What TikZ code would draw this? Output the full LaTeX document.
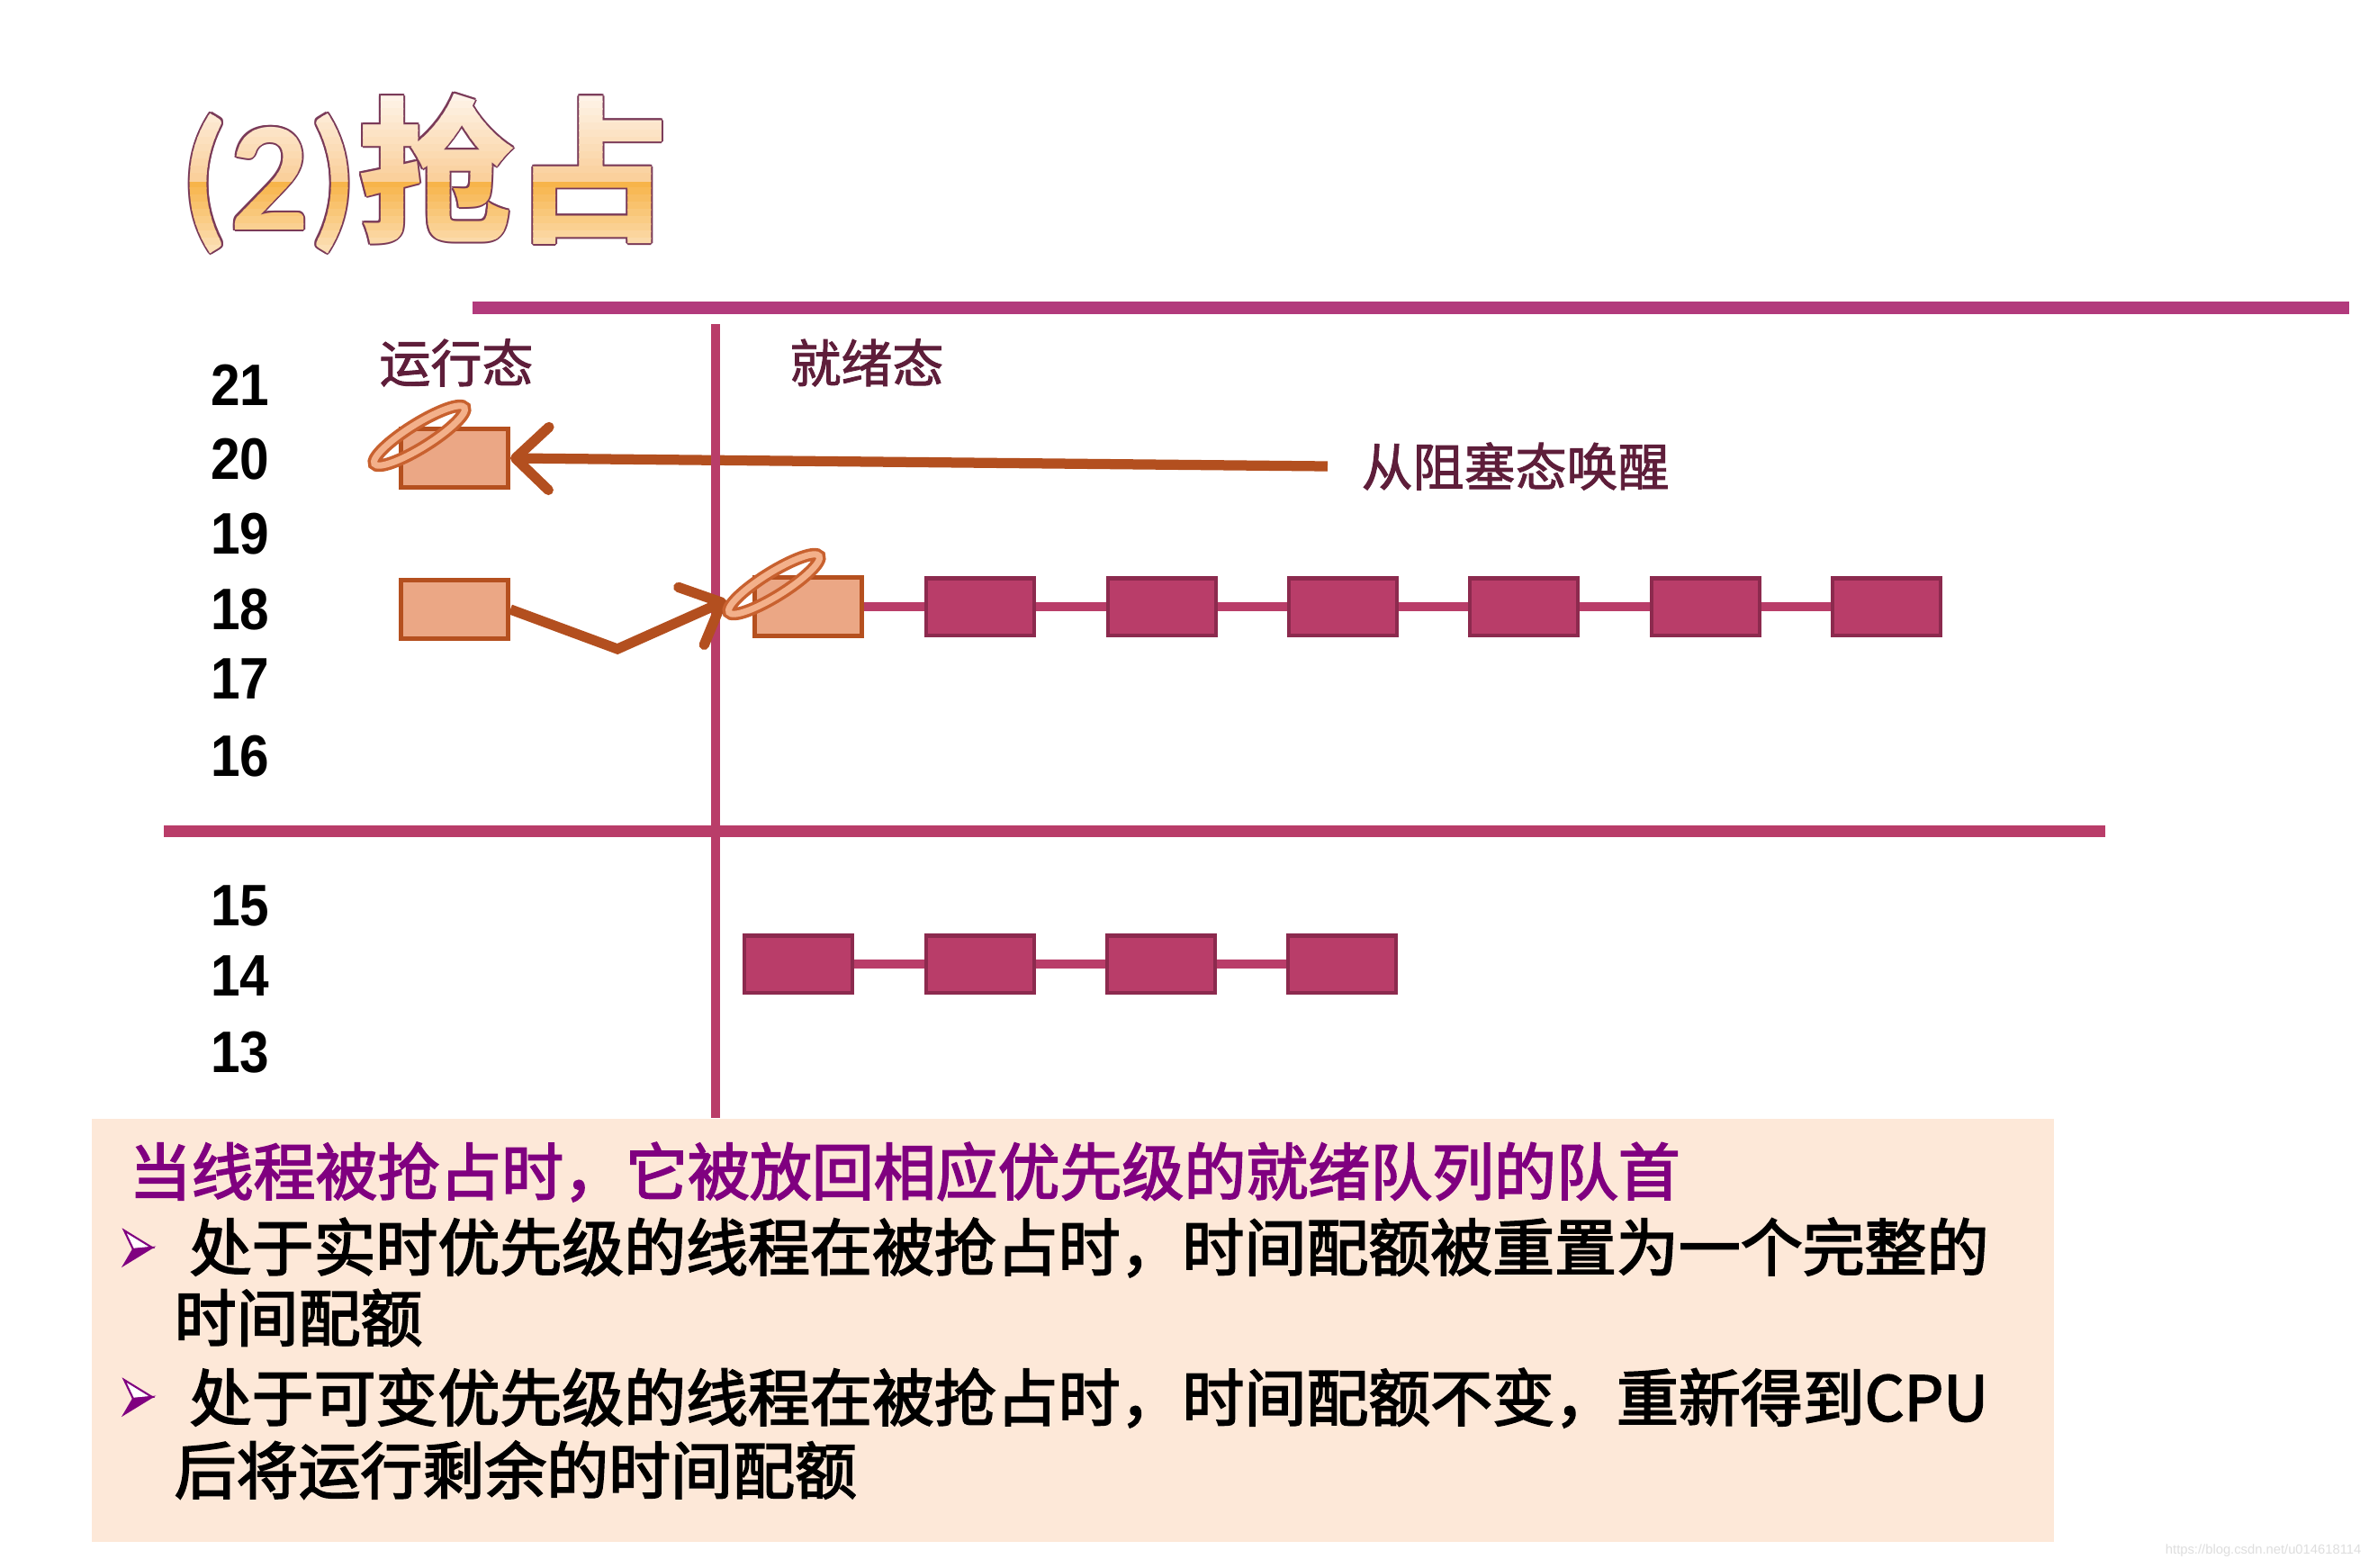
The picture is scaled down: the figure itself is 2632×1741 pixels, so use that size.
\documentclass[tikz,border=0pt]{standalone}
\usepackage{fontspec}
\usetikzlibrary{arrows.meta}
\setmainfont{Liberation Sans}
\newfontfamily\cjk{Noto Sans CJK SC}
\newfontfamily\cjklab[FakeBold=1.6]{Noto Sans CJK SC}
\newfontfamily\cjkmid[FakeBold=2.6]{Noto Sans CJK SC}
\newfontfamily\numfont[FakeStretch=0.9]{Liberation Sans}
\newfontfamily\titlefont{Carlito}

\definecolor{linepink}{HTML}{B93D69}
\definecolor{toppink}{HTML}{B23A7C}
\definecolor{qfill}{HTML}{B93D69}
\definecolor{qedge}{HTML}{8C2A4E}
\definecolor{runfill}{HTML}{EBA785}
\definecolor{runedge}{HTML}{B5501F}
\definecolor{arrowbrown}{HTML}{B34F1F}
\definecolor{haloout}{HTML}{C8612F}
\definecolor{haloin}{HTML}{F3B08A}
\definecolor{labelred}{HTML}{5E1E3A}
\definecolor{notebg}{HTML}{FDE8D8}
\definecolor{notepurple}{HTML}{800080}
\definecolor{titleedge}{HTML}{7A3A58}
\definecolor{titlelight}{HTML}{FEF3E8}
\definecolor{titlemid}{HTML}{FAD09C}
\definecolor{titleorange}{HTML}{F7B44A}
\definecolor{titlelow}{HTML}{FDE8CC}

\newcommand{\titletext}{{\titlefont\bfseries(2)}{\cjk\bfseries 抢占}}
\newcommand{\titlesize}{\fontsize{49.5pt}{50pt}\selectfont}

\begin{document}
\begin{tikzpicture}[x=0.01cm,y=-0.01cm,
    runbox/.style={draw=runedge,fill=runfill,line width=1.4pt,minimum width=1.19cm,minimum height=0.65cm,inner sep=0},
    qbox/.style={draw=qedge,fill=qfill,line width=1.3pt,minimum width=1.2cm,minimum height=0.635cm,inner sep=0},
    qlink/.style={linepink,line width=3.1pt},
    wakearrow/.style={arrowbrown,line width=3.2pt,-{Straight Barb[length=3.7mm,width=7mm,round]}},
    prio/.style={font=\numfont\bfseries\fontsize{18.5pt}{19pt}\selectfont,inner sep=0},
    state/.style={text=labelred,font=\cjklab\fontsize{16.2pt}{18pt}\selectfont,inner sep=0},
    note/.style={anchor=west,inner sep=0,font=\cjkmid\fontsize{19.6pt}{24pt}\selectfont},
    titlepart/.style={anchor=base west,inner sep=0,font=\titlesize},
    halo/.pic={
      \draw[haloout,line width=4pt,rotate=32] (0,0) ellipse[x radius=0.59cm,y radius=0.13cm];
      \draw[haloin,line width=2pt,rotate=32] (0,0) ellipse[x radius=0.59cm,y radius=0.13cm];
    },
    bulletmark/.pic={
      \filldraw[notepurple,fill=white,line width=0.6pt] (-16,-19) -- (15,0) -- (-6,2) -- cycle;
      \filldraw[notepurple,line width=0.6pt] (-6,2) -- (15,0) -- (-16,19) -- cycle;
    }]
  \useasboundingbox[fill=white] (0,0) rectangle (2632,1741);

  % title: thin outline, then a banded gradient
  \foreach \a in {0,45,...,315}
    \node[titlepart,text=titleedge] at ([shift={(\a:2)}]200,255) {\titletext};
  \foreach \i in {0,...,11} {
    \pgfmathsetmacro\p{100*\i/11}
    \begin{scope}
      \clip (150,{104+8*\i}) rectangle (780,{113+8*\i});
      \node[titlepart,text={titlemid!\p!titlelight}] at (200,255) {\titletext};
    \end{scope}
    \begin{scope}
      \clip (150,{200+8*\i}) rectangle (780,{209+8*\i});
      \node[titlepart,text={titlelow!\p!titleorange}] at (200,255) {\titletext};
    \end{scope}
  }
  \node[titlepart] (title) at (200,255) {\phantom{\titletext}};

  % dividers
  \draw[toppink,line width=4pt] (525,342) -- (2610,342);
  \draw[linepink,line width=3.7pt] (182,923) -- (2339,923);

  % priority levels
  \foreach \n/\y in {21/428,20/510,19/593,18/677,17/754,16/840,15/1006,14/1084,13/1169}
    \node[prio] (lv\n) at (267,\y) {\n};

  \node[state] (running) at (507,403) {运行态};
  \node[state] (ready) at (963,403) {就绪态};
  \node[state,anchor=west] (wake) at (1512,518) {从阻塞态唤醒};

  % threads
  \node[runbox] (run20) at (505,509) {};
  \node[runbox] (run18) at (505,677) {};
  \node[runbox] (ready18) at (898,674) {};
  \foreach \i/\x in {1/1089,2/1291,3/1492,4/1693,5/1895,6/2096}
    \node[qbox] (q\i) at (\x,674) {};
  \foreach \i/\x in {1/887,2/1089,3/1290,4/1491}
    \node[qbox] (p\i) at (\x,1071) {};
  \draw[qlink] (ready18) -- (q1);
  \foreach \i/\j in {1/2,2/3,3/4,4/5,5/6} \draw[qlink] (q\i) -- (q\j);
  \foreach \i/\j in {1/2,2/3,3/4} \draw[qlink] (p\i) -- (p\j);

  % wake up / preempt
  \draw[wakearrow] ([xshift=-0.37cm]wake.west) -- (run20.east);
  \draw[linepink,line width=2.85pt] (795,360) -- (795,1242);
  \coordinate (dip) at (686,721);
  \coordinate (hit) at ([shift={(-29,-7)}]ready18.west);
  \draw[wakearrow] (run18.east) -- (dip) -- (hit);
  \pic at ([shift={(23,10)}]run20.north west) {halo};
  \pic at ([shift={(24,10)}]ready18.north west) {halo};

  % note
  \node[fill=notebg,minimum width=21.79cm,minimum height=4.7cm,inner sep=0,anchor=north west] (notebox) at (101,1242) {};
  \node[note,text=notepurple] (l1) at (143,1302) {当线程被抢占时，它被放回相应优先级的就绪队列的队首};
  \pic at (154,1386) {bulletmark};
  \node[note] (l2) at (210,1386) {处于实时优先级的线程在被抢占时，时间配额被重置为一个完整的};
  \node[note] (l3) at (193,1464) {时间配额};
  \pic at (154,1552) {bulletmark};
  \node[note] (l4) at (210,1553) {处于可变优先级的线程在被抢占时，时间配额不变，重新得到CPU};
  \node[note] (l5) at (193,1633) {后将运行剩余的时间配额};

  \node[anchor=east,inner sep=0,text=black!13,font=\fontsize{4.2pt}{5pt}\selectfont] (wm) at (2624,1723) {https://blog.csdn.net/u014618114};
\end{tikzpicture}
\end{document}
